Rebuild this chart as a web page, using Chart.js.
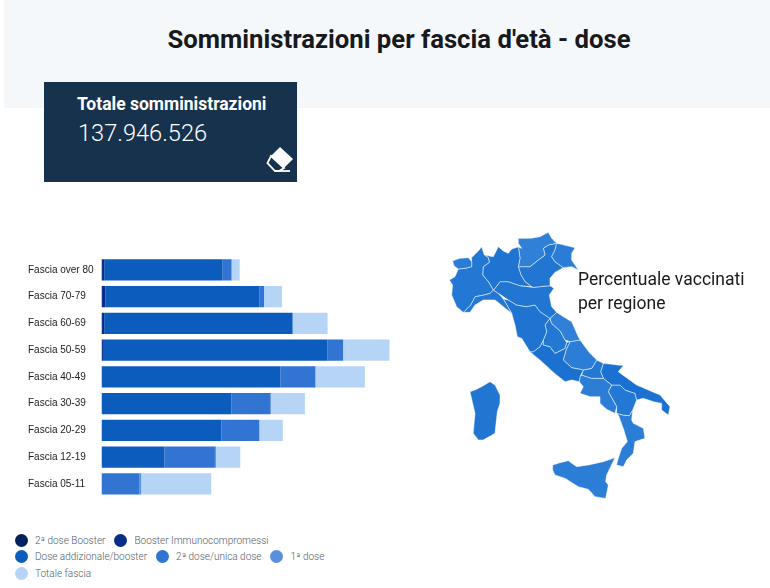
<!DOCTYPE html>
<html lang="it">
<head>
<meta charset="utf-8">
<title>Somministrazioni per fascia d'età - dose</title>
<script src="https://cdn.jsdelivr.net/npm/chart.js@4"></script>
<style>
  html, body { margin: 0; padding: 0; background: #fff; }
  body { width: 770px; height: 588px; position: relative; overflow: hidden; font-family: Roboto, sans-serif; }
  #band { position: absolute; left: 4px; top: 0; width: 766px; height: 108px; background: #f5f8fb; }
  h1 { position: absolute; left: 4px; top: 22px; width: 790px; margin: 0; text-align: center; font-size: 25.7px; line-height: 34px; font-weight: 700; color: #17191c; }
  #box { position: absolute; left: 44px; top: 82px; width: 253px; height: 100px; background: #17324d; color: #fff; }
  #box .lab { position: absolute; left: 33px; top: 11px; font-size: 17.5px; line-height: 22px; font-weight: 700; white-space: nowrap; }
  #box .num { position: absolute; left: 34px; top: 36px; font-size: 23.6px; line-height: 30px; font-weight: 300; white-space: nowrap; }
  #box svg { position: absolute; left: 222px; top: 64px; }
  #barChart { position: absolute; left: 0; top: 240px; }
  #mapChart { position: absolute; left: 440px; top: 225px; }
  #mapLabel { position: absolute; left: 578px; top: 268px; font-size: 17.5px; line-height: 23.5px; color: #17191c; white-space: nowrap; }
  #legend { position: absolute; left: 14.5px; top: 532px; width: 395px; display: flex; flex-wrap: wrap; font-size: 10px; font-weight: 300; color: #4f5b66; }
  #legend .item { display: flex; align-items: center; height: 16.5px; margin-right: 8.5px; white-space: nowrap; }
  #legend .dot { width: 13px; height: 13px; border-radius: 50%; margin-right: 7.5px; }
</style>
</head>
<body>
<div id="band"></div>
<h1>Somministrazioni per fascia d'età - dose</h1>
<div id="box">
  <div class="lab">Totale somministrazioni</div>
  <div class="num">137.946.526</div>
  <svg width="30" height="28" viewBox="0 0 30 28">
    <path d="M14 1 L27 13 L18 22 L5 10 Z" fill="#fff"/>
    <path d="M5 10 L18 22 L13 25 L9 25 L1.5 17 Z" fill="none" stroke="#fff" stroke-width="1.8"/>
    <path d="M9 25 L24 25" stroke="#fff" stroke-width="1.8"/>
  </svg>
</div>
<canvas id="barChart" width="400" height="270"></canvas>
<div id="legend"></div>
<canvas id="mapChart" width="240" height="305"></canvas>
<div id="mapLabel">Percentuale vaccinati<br>per regione</div>

<script>
// fasce d'eta e dosi (milioni)
const fasce = ['Fascia over 80', 'Fascia 70-79', 'Fascia 60-69', 'Fascia 50-59', 'Fascia 40-49', 'Fascia 30-39', 'Fascia 20-29', 'Fascia 12-19', 'Fascia 05-11'];
const secondaBooster = [0.05, 0.03, 0.01, 0.01, 0, 0, 0, 0, 0];
const boosterImmuno = [0.21, 0.36, 0.25, 0.13, 0.02, 0.01, 0.01, 0, 0];
const doseAddizionale = [11.49, 15.0, 18.33, 21.87, 17.41, 12.65, 11.67, 6.13, 0];
const secondaDose = [0.91, 0.43, 0.03, 1.5, 3.38, 3.8, 3.67, 4.91, 3.67];
const primaDose = [0.01, 0.01, 0.01, 0.02, 0.03, 0.03, 0.03, 0.1, 0.19];
const totaleFascia = [0.78, 1.75, 3.38, 4.51, 4.8, 3.31, 2.27, 2.37, 6.82];

// regioni: contorni in unita' della mappa
const regioni = ['Valle d\'Aosta', 'Piemonte', 'Lombardia', 'Trentino-Alto Adige', 'Friuli-Venezia Giulia', 'Veneto', 'Emilia-Romagna', 'Liguria', 'Toscana', 'Marche', 'Umbria', 'Lazio', 'Abruzzo', 'Molise', 'Puglia', 'Campania', 'Basilicata', 'Calabria', 'Sicilia', 'Sardegna'];
const coloriRegioni = ['#2a7cd6', '#2378d3', '#1f74d1', '#2f80d6', '#2a7cd6', '#2176d2', '#2176d2', '#2378d3', '#1f74d1', '#2f80d6', '#2378d3', '#1a71d1', '#2b7dd5', '#2378d3', '#1a71d1', '#2b7dd5', '#2378d3', '#2b7dd5', '#2c7dd6', '#2176d1'];
const contorni = [
  [[38,108],[60,100],[85,98],[95,110],[95,125],[75,130],[55,132],[42,122]],
  [[95,98],[115,78],[125,65],[133,90],[145,98],[148,112],[130,125],[128,150],[145,170],[160,195],[150,205],[130,210],[105,215],[92,240],[70,262],[50,245],[35,210],[38,180],[28,165],[45,155],[55,132],[75,130],[95,125],[95,110]],
  [[133,90],[160,95],[175,65],[190,78],[205,85],[215,72],[235,66],[240,100],[235,125],[243,150],[255,170],[275,185],[240,182],[205,170],[180,170],[165,190],[160,195],[145,170],[128,150],[130,125],[148,112],[145,98]],
  [[235,40],[270,40],[300,35],[325,22],[335,40],[350,55],[325,60],[310,70],[315,90],[295,105],[270,125],[235,125],[240,100],[235,66],[245,70],[235,55]],
  [[350,55],[405,68],[395,85],[395,105],[405,120],[415,135],[395,125],[370,128],[345,110],[335,95],[345,75]],
  [[310,70],[325,60],[350,55],[345,75],[335,95],[345,110],[370,128],[345,142],[330,160],[330,182],[280,187],[275,185],[255,170],[243,150],[235,125],[270,125],[295,105],[315,90]],
  [[165,190],[180,170],[205,170],[240,182],[280,187],[330,182],[342,190],[328,210],[335,245],[350,262],[330,280],[300,260],[285,240],[260,245],[230,240],[205,225],[175,205],[160,195]],
  [[70,262],[92,240],[105,215],[130,210],[150,205],[160,195],[175,205],[190,222],[215,265],[190,245],[165,225],[130,225],[105,240],[90,262]],
  [[190,222],[205,225],[230,240],[260,245],[285,240],[300,260],[330,280],[315,300],[320,320],[310,345],[300,365],[280,380],[270,380],[245,340],[232,335],[225,300],[215,265]],
  [[350,262],[370,275],[395,290],[415,335],[420,345],[390,350],[375,345],[362,320],[335,295],[330,280]],
  [[330,280],[335,295],[362,320],[375,345],[380,352],[375,370],[345,385],[330,365],[310,360],[310,345],[320,320],[315,300]],
  [[270,380],[280,380],[300,365],[310,345],[310,360],[330,365],[345,385],[375,370],[380,352],[390,350],[378,375],[370,405],[395,428],[430,435],[420,455],[418,470],[395,465],[375,470],[350,450],[335,437],[300,405]],
  [[390,350],[420,345],[450,385],[470,405],[455,430],[430,435],[395,428],[370,405],[378,375]],
  [[470,405],[490,415],[482,440],[490,460],[455,460],[425,450],[430,435],[455,430]],
  [[490,415],[515,418],[550,422],[535,440],[590,480],[660,510],[690,545],[685,570],[665,555],[665,535],[640,530],[610,520],[590,525],[585,505],[555,495],[540,480],[515,480],[490,460],[482,440]],
  [[418,470],[420,455],[425,450],[455,460],[490,460],[515,480],[505,500],[530,545],[525,565],[500,553],[480,535],[480,515],[450,515],[420,505],[430,485]],
  [[515,480],[540,480],[555,495],[585,505],[590,525],[578,555],[568,572],[548,570],[530,565],[530,545],[505,500]],
  [[530,565],[548,570],[568,572],[578,555],[575,585],[580,595],[610,610],[615,640],[585,650],[580,685],[560,705],[550,725],[530,720],[535,700],[545,670],[562,650],[550,610],[535,570]],
  [[338,720],[360,713],[385,707],[410,725],[445,720],[490,710],[525,698],[500,750],[497,770],[505,780],[497,820],[465,815],[445,793],[415,785],[375,760],[345,750],[338,735]],
  [[90,500],[105,495],[125,485],[150,470],[165,480],[180,510],[180,535],[172,560],[165,625],[130,645],[115,645],[100,625],[105,565],[98,535]]
];

const makeSet = (label, data, color) => ({
  label: label,
  data: data,
  backgroundColor: color,
  categoryPercentage: 0.8,
  barPercentage: 1
});

const barChart = new Chart(document.getElementById('barChart'), {
  type: 'bar',
  data: {
    labels: fasce,
    datasets: [
      makeSet('2ª dose Booster', secondaBooster, '#03205f'),
      makeSet('Booster Immunocompromessi', boosterImmuno, '#0b2d8a'),
      makeSet('Dose addizionale/booster', doseAddizionale, '#0b5cbd'),
      makeSet('2ª dose/unica dose', secondaDose, '#3174d1'),
      makeSet('1ª dose', primaDose, '#5a8fdc'),
      makeSet('Totale fascia', totaleFascia, '#b6d4f5')
    ]
  },
  options: {
    indexAxis: 'y',
    responsive: false,
    animation: false,
    layout: { padding: { left: 28, top: 16.5, right: 0, bottom: 12.8 } },
    scales: {
      x: { stacked: true, display: false, min: 0, max: 29.06 },
      y: {
        stacked: true,
        grid: { display: false },
        border: { display: false },
        ticks: {
          crossAlign: 'far',
          color: '#222',
          autoSkip: false,
          font: { family: 'Liberation Sans', size: 10 }
        },
        afterFit(scale) { scale.width = 73.5; }
      }
    },
    plugins: {
      tooltip: { enabled: false },
      legend: { display: false }
    }
  }
});

// legenda html: va a capo come nell'originale
barChart.data.datasets.forEach(ds => {
  const item = document.createElement('div');
  item.className = 'item';
  const dot = document.createElement('span');
  dot.className = 'dot';
  dot.style.background = ds.backgroundColor;
  item.appendChild(dot);
  item.appendChild(document.createTextNode(ds.label));
  document.getElementById('legend').appendChild(item);
});

new Chart(document.getElementById('mapChart'), {
  type: 'scatter',
  data: {
    datasets: regioni.map((nome, i) => ({
      label: nome,
      data: contorni[i].concat([contorni[i][0]]).map(p => ({ x: p[0], y: p[1] })),
      showLine: true,
      fill: 'shape',
      tension: 0.01,  // con 0 il fast path rovina i contorni
      pointRadius: 0,
      backgroundColor: coloriRegioni[i],
      borderColor: 'rgba(255,255,255,0.65)',
      borderWidth: 0.8
    }))
  },
  options: {
    responsive: false,
    animation: false,
    scales: {
      x: { display: false, min: 0, max: 720 },
      y: { display: false, min: 0, max: 915, reverse: true }
    },
    plugins: { legend: { display: false }, tooltip: { enabled: false } }
  }
});
</script>
</body>
</html>
